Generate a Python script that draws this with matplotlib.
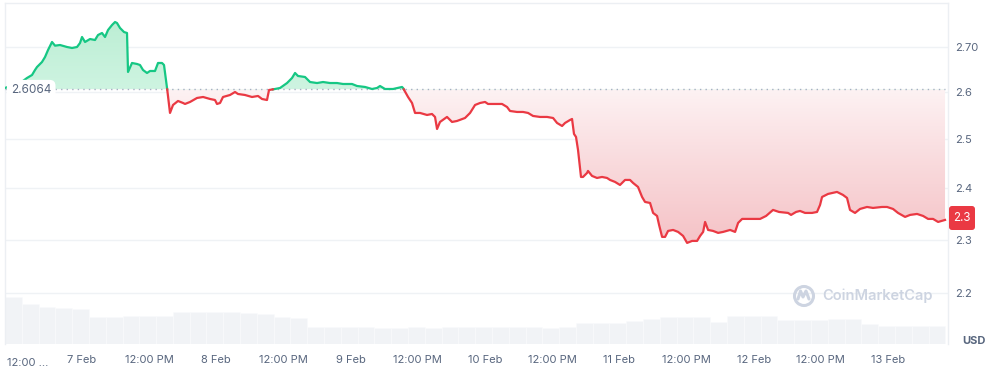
import numpy as np
import matplotlib
matplotlib.use("Agg")
import matplotlib.pyplot as plt
import matplotlib.transforms as mtransforms
from matplotlib.patches import FancyBboxPatch, PathPatch, Circle
from matplotlib.path import Path
from matplotlib.ticker import NullLocator, FixedLocator, FixedFormatter

plt.rcParams['font.family'] = ['Inter', 'DejaVu Sans']

# ---------------- data ----------------
# hours relative to 7 Feb 00:00
hours = [-13.76, -10.72, -9.83, -8.93, -8.40, -8.04, -7.15, -6.61, -6.07, -5.36,
         -4.82, -3.93, -2.68, -1.79, -0.89, -0.36, 0.00, 0.54, 1.43, 2.32,
         2.86, 3.57, 4.11, 4.65, 5.36, 5.90, 6.25, 6.79, 7.50, 8.04,
         8.22, 8.93, 9.83, 10.36, 10.90, 11.61, 12.15, 13.04, 13.58, 14.29,
         14.65, 15.19, 15.72, 16.26, 17.15, 18.05, 18.40, 19.30, 20.55, 21.63,
         22.88, 23.76, 24.12, 24.66, 25.19, 26.44, 27.34, 27.87, 29.12, 30.37,
         31.45, 32.16, 33.05, 33.41, 34.48, 35.38, 36.63, 37.52, 38.06, 38.59,
         39.84, 40.74, 41.99, 43.06, 44.31, 45.57, 46.63, 48.24, 49.14, 50.57,
         51.81, 52.71, 53.24, 54.14, 55.57, 57.17, 57.35, 58.25, 58.96, 59.50,
         60.39, 61.64, 62.53, 63.07, 63.43, 63.96, 65.21, 66.11, 67.00, 68.43,
         69.33, 70.22, 71.11, 72.01, 72.54, 73.79, 75.04, 75.94, 76.47, 77.72,
         78.80, 79.69, 80.58, 81.84, 83.09, 84.16, 84.87, 85.77, 86.30, 87.19,
         87.55, 87.90, 88.26, 88.62, 89.15, 89.51, 90.23, 90.40, 91.12, 92.01,
         92.91, 93.80, 94.34, 95.23, 96.12, 97.02, 97.91, 98.45, 99.34, 100.06,
         100.59, 101.49, 102.03, 102.74, 103.10, 103.64, 104.17, 104.71, 105.60, 106.50,
         107.39, 108.11, 109.00, 109.89, 110.43, 110.97, 111.32, 111.86, 112.75, 113.65,
         114.54, 115.79, 116.68, 117.22, 117.94, 118.83, 119.90, 121.15, 122.22, 123.46,
         124.53, 126.14, 126.68, 127.57, 128.28, 129.18, 130.43, 131.32, 131.86, 132.22,
         133.29, 134.89, 135.96, 136.68, 137.21, 138.11, 139.00, 140.25, 141.32, 142.93,
         143.83, 144.90, 145.79, 147.05, 147.94, 149.19, 150.27, 151.16, 152.05, 152.95,
         154.19]
price = [2.6094, 2.6231, 2.6312, 2.6378, 2.6488, 2.6554, 2.6665, 2.6776, 2.6933, 2.7113,
         2.7030, 2.7045, 2.7000, 2.6978, 2.7000, 2.7090, 2.7226, 2.7113, 2.7180, 2.7158,
         2.7271, 2.7317, 2.7226, 2.7385, 2.7499, 2.7568, 2.7545, 2.7431, 2.7339, 2.7317,
         2.6444, 2.6643, 2.6621, 2.6598, 2.6488, 2.6422, 2.6466, 2.6466, 2.6643, 2.6643,
         2.6598, 2.6094, 2.5557, 2.5727, 2.5813, 2.5770, 2.5749, 2.5792, 2.5878, 2.5899,
         2.5856, 2.5834, 2.5749, 2.5770, 2.5899, 2.5942, 2.6007, 2.5964, 2.5942, 2.5899,
         2.5921, 2.5856, 2.5834, 2.6050, 2.6072, 2.6094, 2.6202, 2.6312, 2.6422, 2.6356,
         2.6334, 2.6224, 2.6202, 2.6224, 2.6202, 2.6202, 2.6181, 2.6181, 2.6137, 2.6116,
         2.6072, 2.6094, 2.6137, 2.6072, 2.6072, 2.6116, 2.6094, 2.5899, 2.5770, 2.5557,
         2.5557, 2.5514, 2.5535, 2.5472, 2.5218, 2.5366, 2.5472, 2.5366, 2.5387, 2.5450,
         2.5557, 2.5727, 2.5770, 2.5792, 2.5749, 2.5749, 2.5749, 2.5684, 2.5599, 2.5578,
         2.5578, 2.5557, 2.5493, 2.5472, 2.5472, 2.5450, 2.5345, 2.5281, 2.5345, 2.5408,
         2.5429, 2.5114, 2.5051, 2.4780, 2.4230, 2.4230, 2.4311, 2.4352, 2.4251, 2.4210,
         2.4230, 2.4210, 2.4170, 2.4130, 2.4069, 2.4170, 2.4170, 2.4110, 2.4029, 2.3830,
         2.3731, 2.3711, 2.3515, 2.3456, 2.3281, 2.3050, 2.3050, 2.3165, 2.3184, 2.3146,
         2.3069, 2.2935, 2.2973, 2.2973, 2.3069, 2.3146, 2.3339, 2.3184, 2.3165, 2.3127,
         2.3146, 2.3184, 2.3146, 2.3320, 2.3398, 2.3398, 2.3398, 2.3398, 2.3456, 2.3574,
         2.3534, 2.3515, 2.3476, 2.3534, 2.3554, 2.3515, 2.3515, 2.3534, 2.3672, 2.3830,
         2.3890, 2.3930, 2.3870, 2.3810, 2.3574, 2.3515, 2.3593, 2.3632, 2.3613, 2.3632,
         2.3632, 2.3593, 2.3515, 2.3437, 2.3476, 2.3495, 2.3456, 2.3398, 2.3398, 2.3339,
         2.3378]
base_price = 2.6064
base_label = "2.6064"
current_label = "2.3"

vol_start_hour = -12.26
vol_step_hours = 3.0
volume = [47, 40, 37, 36, 35, 27, 27, 28, 28, 28, 32, 32, 32, 32, 31, 30, 27, 26, 17, 17,
          17, 17, 16, 16, 17, 16, 17, 17, 17, 17, 17, 17, 16, 17, 21, 21, 21, 23, 25, 27,
          27, 27, 22, 28, 28, 28, 24, 24, 24, 25, 25, 20, 18, 18, 18, 18]

x_tick_hours = [0, 12, 24, 36, 48, 60, 72, 84, 96, 108, 120, 132, 144]
x_tick_labels = ["7 Feb", "12:00 PM", "8 Feb", "12:00 PM", "9 Feb", "12:00 PM",
                 "10 Feb", "12:00 PM", "11 Feb", "12:00 PM", "12 Feb", "12:00 PM", "13 Feb"]
first_x_label = "12:00 ..."
y_ticks = [2.2, 2.3, 2.4, 2.5, 2.6, 2.7]
y_tick_labels = ["2.2", "2.3", "2.4", "2.5", "2.6", "2.70"]
unit_label = "USD"
watermark = "CoinMarketCap"

# ---------------- style ----------------
GREEN = "#16c784"
RED = "#ea3943"
TXT = "#58667e"
GRID = "#eff2f5"

W, H = 994, 369
fig = plt.figure(figsize=(W / 100, H / 100), dpi=100)
L, R, T, B = 5, 948, 3, 344
ax = fig.add_axes([L / W, 1 - B / H, (R - L) / W, (B - T) / H])
axv = ax.twinx()
ax.set_zorder(2)
axv.set_zorder(1)
ax.patch.set_visible(False)

XMIN, XMAX = -13.76, 154.72
YMIN, YMAX = 2.1083, 2.8008

# volume bars
vol_hours = vol_start_hour + vol_step_hours * np.arange(len(volume))
axv.bar(vol_hours, volume, width=vol_step_hours, color="#f1f3f6",
        edgecolor="#fafbfc", linewidth=0.4, zorder=1)
axv.set_ylim(0, B - T)
axv.set_yticks([])
for s in axv.spines.values():
    s.set_visible(False)

ax.set_yscale("log")
t = np.array(hours)
p = np.array(price)

# insert crossing points with the baseline
tt, pp = [t[0]], [p[0]]
for i in range(1, len(t)):
    d0, d1 = p[i - 1] - base_price, p[i] - base_price
    if d0 * d1 < 0:
        f = d0 / (d0 - d1)
        tt.append(t[i - 1] + f * (t[i] - t[i - 1]))
        pp.append(base_price)
    tt.append(t[i])
    pp.append(p[i])
tt, pp = np.array(tt), np.array(pp)

# gradient fill clipped to region between line and baseline
N = 600
fr = np.linspace(0, 1, N)
vals = np.exp(np.log(YMIN) + fr * (np.log(YMAX) - np.log(YMIN)))
img = np.ones((N, 1, 4))
for i, v in enumerate(vals):
    if v < base_price:
        s = np.clip((base_price - v) / (base_price - 2.29), 0, 1)
        c0, c1 = np.array([253, 242, 243]), np.array([245, 194, 198])
    else:
        s = np.clip((v - base_price) / (2.76 - base_price), 0, 1)
        c0, c1 = np.array([206, 244, 225]), np.array([188, 238, 212])
    img[i, 0, :3] = (c0 + s * (c1 - c0)) / 255.0
im = ax.imshow(img, extent=(0, 1, 0, 1), origin="lower", aspect="auto",
               transform=ax.transAxes, interpolation="bilinear", zorder=1)
coll = ax.fill_between(tt, pp, base_price, facecolor="none", edgecolor="none")
clip_patch = PathPatch(coll.get_paths()[0], transform=ax.transData,
                       facecolor="none", edgecolor="none")
ax.add_patch(clip_patch)
im.set_clip_path(clip_patch)

# baseline
ax.plot([XMIN, XMAX - 0.6], [base_price, base_price], color="#a6b0c3",
        lw=1.0, ls=(0, (1, 3)), zorder=3)

# price line split by baseline
green = np.where(pp >= base_price, pp, np.nan)
red = np.where(pp <= base_price, pp, np.nan)
ax.plot(tt, green, color=GREEN, lw=1.6, zorder=4, solid_joinstyle="round")
ax.plot(tt, red, color=RED, lw=1.6, zorder=4, solid_joinstyle="round")

ax.set_xlim(XMIN, XMAX)
ax.set_ylim(YMIN, YMAX)

# axes styling
ax.yaxis.tick_right()
ax.yaxis.set_major_locator(FixedLocator(y_ticks))
ax.yaxis.set_major_formatter(FixedFormatter(y_tick_labels))
ax.yaxis.set_minor_locator(NullLocator())
ax.tick_params(axis="y", which="both", length=0, pad=5, labelsize=8, labelcolor=TXT)
ax.set_xticks(x_tick_hours)
ax.set_xticklabels(x_tick_labels)
ax.tick_params(axis="x", length=0, pad=8, labelsize=8, labelcolor=TXT)
ax.grid(axis="y", color=GRID, lw=1.0, zorder=0)
ax.set_axisbelow(True)
for name, s in ax.spines.items():
    s.set_color("#eceff3")
    s.set_linewidth(1.0)
ax.spines["bottom"].set_visible(False)

ax.text(XMIN + 2.0 / 5.597, -0.04, first_x_label,
        transform=mtransforms.blended_transform_factory(ax.transData, ax.transAxes),
        ha="left", va="top", fontsize=8, color=TXT)

ident = mtransforms.IdentityTransform()


def px(x, y):
    return x, H - y


# baseline label
fig.text(11 / W, 1 - 90 / H, base_label, ha="left", va="center",
         fontsize=8.5, color=TXT, zorder=5,
         bbox=dict(boxstyle="round,pad=0.35,rounding_size=0.5", fc="white", ec="none"))

# current price tag
x0, y0 = px(948, 231)
tag = FancyBboxPatch((x0 + 1, y0 + 1), 26, 24, boxstyle="round,pad=0,rounding_size=3",
                     transform=ident, fc=RED, ec="none", zorder=6)
fig.patches.append(tag)
tag.set_figure(fig)
fig.text(962 / W, 1 - 218 / H, current_label, ha="center", va="center",
         fontsize=8.3, color="white", zorder=7)

# unit label
fig.text(974 / W, 1 - 341 / H, unit_label, ha="center", va="center",
         fontsize=8, color=TXT, fontweight="bold")

# watermark
WM = "#cdd4e1"
cx, cy = px(804, 296)
ring = Circle((cx, cy), 9.5, transform=ident, fc="none", ec=WM, lw=2.2, zorder=3)
fig.patches.append(ring)
ring.set_figure(fig)
wave = Path([(cx - 6, cy - 3), (cx - 3.5, cy + 5), (cx - 1, cy - 1),
             (cx + 2, cy + 5), (cx + 5, cy - 3)])
wp = PathPatch(wave, transform=ident, fc="none", ec=WM, lw=2.2, zorder=3,
               capstyle="round", joinstyle="round")
fig.patches.append(wp)
wp.set_figure(fig)
fig.text(822 / W, 1 - 296 / H, watermark, ha="left", va="center",
         fontsize=10.5, color=WM, fontweight="semibold")

fig.savefig("out.png", dpi=100)
